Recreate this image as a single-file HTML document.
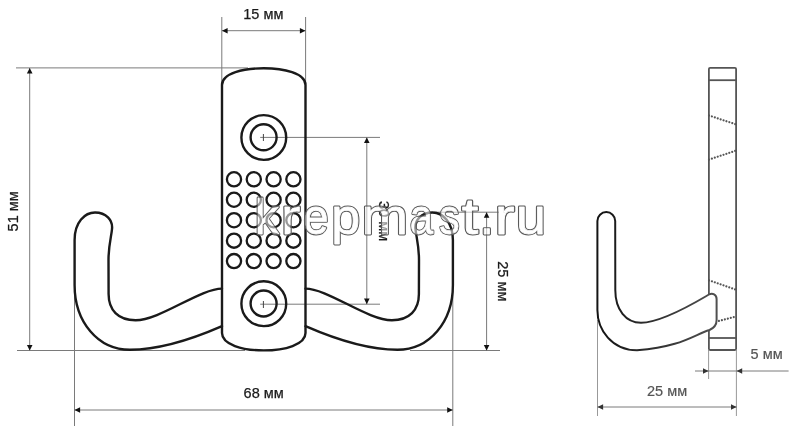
<!DOCTYPE html>
<html><head><meta charset="utf-8"><style>
html,body{margin:0;padding:0;background:#fff;width:800px;height:435px;overflow:hidden}
svg{display:block;filter:grayscale(1)}
text{font-family:"Liberation Sans",sans-serif}
</style></head><body>
<svg width="800" height="435" viewBox="0 0 800 435">
<rect width="800" height="435" fill="#fff"/>
<defs>
<linearGradient id="sg" gradientUnits="userSpaceOnUse" x1="600" y1="0" x2="716" y2="0"><stop offset="0" stop-color="#141414"/><stop offset="1" stop-color="#505050"/></linearGradient>
<path id="ah" d="M0,0 L-5.6,-2.8 L-5.6,2.8 Z"/>
</defs>
<!-- dimension lines -->
<g stroke="#7a7a7a" stroke-width="1" fill="none">
  <!-- 15mm -->
  <line x1="221.8" y1="17" x2="221.8" y2="84"/>
  <line x1="305.6" y1="17" x2="305.6" y2="84"/>
  <line x1="222" y1="30.7" x2="305.5" y2="30.7"/>
  <!-- 51mm -->
  <line x1="16" y1="67.9" x2="248" y2="67.9"/>
  <line x1="17" y1="350.5" x2="245" y2="350.5"/>
  <line x1="410" y1="350.5" x2="500" y2="350.5"/>
  <line x1="29.7" y1="68" x2="29.7" y2="350"/>
  <!-- 68mm -->
  <line x1="74.5" y1="260" x2="74.5" y2="426"/>
  <line x1="452.8" y1="260" x2="452.8" y2="426"/>
  <line x1="74.5" y1="410" x2="452.8" y2="410"/>
  <!-- 30mm -->
  <line x1="260.2" y1="137.4" x2="380" y2="137.4"/>
  <line x1="260.2" y1="304.2" x2="380" y2="304.2"/>
  <line x1="366.8" y1="137.4" x2="366.8" y2="304.2"/>
  <!-- 25mm -->
  <line x1="434" y1="212.2" x2="499" y2="212.2"/>
  <line x1="486.6" y1="212.2" x2="486.6" y2="350.2"/>
  <!-- side 25mm -->
  <line x1="597.5" y1="320" x2="597.5" y2="416" stroke="#999"/>
  <line x1="736.4" y1="350" x2="736.4" y2="416" stroke="#999"/>
  <line x1="597.5" y1="407" x2="736.6" y2="407"/>
  <!-- side 5mm -->
  <line x1="708.6" y1="350" x2="708.6" y2="379" stroke="#999"/>
  <line x1="695" y1="371" x2="788.6" y2="371"/>
</g>
<!-- arrowheads -->
<g fill="#111">
  <use href="#ah" transform="translate(222,30.7) rotate(180)"/>
  <use href="#ah" transform="translate(305.5,30.7)"/>
  <use href="#ah" transform="translate(29.7,67.9) rotate(-90)"/>
  <use href="#ah" transform="translate(29.7,350.5) rotate(90)"/>
  <use href="#ah" transform="translate(74.5,410) rotate(180)"/>
  <use href="#ah" transform="translate(452.8,410)"/>
  <use href="#ah" transform="translate(366.8,137.4) rotate(-90)"/>
  <use href="#ah" transform="translate(366.8,304.2) rotate(90)"/>
  <use href="#ah" transform="translate(486.6,212.2) rotate(-90)"/>
  <use href="#ah" transform="translate(486.6,350.5) rotate(90)"/>
</g>
<g fill="#333">
  <use href="#ah" transform="translate(597.5,407) rotate(180)"/>
  <use href="#ah" transform="translate(736.6,407)"/>
  <use href="#ah" transform="translate(708.6,371)"/>
  <use href="#ah" transform="translate(736.6,371) rotate(180)"/>
</g>

<!-- front view body -->
<g stroke="#1a1a1a" stroke-width="2.4" fill="none" stroke-linejoin="round" stroke-linecap="round">
  <path id="hookL" d="M222,326.2 C195,338 160,349.8 130,349.8 C98,349.8 74.6,322 74.6,285 L74.6,240 C74.6,222 85,212.5 95,212.5 C106,212.5 113,220 112,229 C111.5,236 108.5,245 108.5,260 L108.6,294 C108.6,310 118,320.2 135.6,320.2 C160,320.2 200,288.6 222,288.6"/>
  <use href="#hookL" transform="translate(527.5,0) scale(-1,1)"/>
  <path d="M222,85 C222,73 244,68.3 263.7,68.3 C283.5,68.3 305.5,73 305.5,85 L305.5,333 C305.5,344.5 285,350.4 263.7,350.4 C242.5,350.4 222,344.5 222,333 Z"/>
  <circle cx="263.8" cy="137.5" r="22.4"/>
  <circle cx="263.6" cy="137.3" r="13"/>
  <circle cx="263.8" cy="303.7" r="22.4"/>
  <circle cx="263.6" cy="303.5" r="13"/>
</g>
<g stroke="#1a1a1a" stroke-width="2.3" fill="none">
  <circle cx="234.0" cy="179.30" r="7.1"/><circle cx="253.8" cy="179.30" r="7.1"/><circle cx="273.6" cy="179.30" r="7.1"/><circle cx="293.4" cy="179.30" r="7.1"/>
  <circle cx="234.0" cy="199.75" r="7.1"/><circle cx="253.8" cy="199.75" r="7.1"/><circle cx="273.6" cy="199.75" r="7.1"/><circle cx="293.4" cy="199.75" r="7.1"/>
  <circle cx="234.0" cy="220.20" r="7.1"/><circle cx="253.8" cy="220.20" r="7.1"/><circle cx="273.6" cy="220.20" r="7.1"/><circle cx="293.4" cy="220.20" r="7.1"/>
  <circle cx="234.0" cy="240.65" r="7.1"/><circle cx="253.8" cy="240.65" r="7.1"/><circle cx="273.6" cy="240.65" r="7.1"/><circle cx="293.4" cy="240.65" r="7.1"/>
  <circle cx="234.0" cy="261.10" r="7.1"/><circle cx="253.8" cy="261.10" r="7.1"/><circle cx="273.6" cy="261.10" r="7.1"/><circle cx="293.4" cy="261.10" r="7.1"/>
</g>
<!-- crosshair -->
<g stroke="#444" stroke-width="1">
  <line x1="263.4" y1="134" x2="263.4" y2="141"/>
  <line x1="263.4" y1="301" x2="263.4" y2="308"/>
</g>

<!-- side view -->
<g stroke="#555" stroke-width="1.8" fill="none">
  <rect x="708.9" y="67.9" width="27.2" height="282.1" rx="1.2"/>
  <line x1="708.9" y1="80.2" x2="736.1" y2="80.2"/>
  <line x1="709" y1="338" x2="736.3" y2="338"/>
</g>
<g stroke="#555" stroke-width="2.2" fill="none" stroke-dasharray="0.01 3.05" stroke-linecap="round">
  <line x1="709" y1="115.5" x2="736" y2="124.4"/>
  <line x1="709" y1="159.6" x2="736" y2="150.6"/>
  <line x1="709" y1="280.3" x2="736" y2="289.7"/>
  <line x1="716" y1="321.7" x2="736" y2="316.5"/>
</g>
<path d="M709.5,330 C693.4,334.9 682.6,346.4 637,350.3 C612,350.3 597.4,330 597.4,310 L597.4,221 A8.9,8.9 0 0 1 615.2,221 L615.3,290 C615.3,310 626,322.7 641,322.7 C663,322.7 702,298.5 709,294.5 C712.5,292.5 716.6,294.5 716.6,299 L716.6,320 C716.6,325 713,328.5 709.5,330 Z" fill="#fff" stroke="url(#sg)" stroke-width="2" stroke-linejoin="round"/>


<!-- labels -->
<g font-size="14.5" fill="#1a1a1a" stroke="#1a1a1a" stroke-width="0.25">
  <text x="243.3" y="18.8">15 мм</text>
  <text x="243.6" y="398">68 мм</text>
  <text transform="translate(17.7,231.4) rotate(-90)">51 мм</text>
  <text transform="translate(378.5,201) rotate(90)">30 мм</text>
  <text transform="translate(497.5,261.3) rotate(90)">25 мм</text>
</g>
<g font-size="14.5" fill="#555" stroke="#555" stroke-width="0.2">
  <text x="750.6" y="358.6">5 мм</text>
  <text x="647" y="396">25 мм</text>
</g>
<!-- watermark -->
<mask id="wmm" maskUnits="userSpaceOnUse" x="0" y="0" width="800" height="435"><rect width="800" height="435" fill="#fff"/><g font-size="49.6" fill="#000" stroke="#000" stroke-width="0.8" stroke-linejoin="round"><text transform="translate(254.84,233.7) scale(0.975,1)" >k</text><text transform="translate(281.05,233.7) scale(1.169,1)" >r</text><text transform="translate(303.26,233.7) scale(0.919,1)" >e</text><text transform="translate(331.25,233.7) scale(1.049,1)" >p</text><text transform="translate(361.71,233.7) scale(1.119,1)" >m</text><text transform="translate(409.71,233.7) scale(0.848,1)" >a</text><text transform="translate(439.15,233.7) scale(0.82,1)" >s</text><text transform="translate(461.85,233.7) scale(1.2,1)" >t</text><text transform="translate(479.31,233.7) scale(1.101,1)" >.</text><text transform="translate(494.81,233.7) scale(1.2,1)" >r</text><text transform="translate(516.11,233.7) scale(1.082,1)" >u</text></g></mask>
<g font-size="49.6" opacity="0.55" fill="#fff" stroke="#fff" stroke-width="0.8" stroke-linejoin="round"><text transform="translate(254.84,233.7) scale(0.975,1)" >k</text><text transform="translate(281.05,233.7) scale(1.169,1)" >r</text><text transform="translate(303.26,233.7) scale(0.919,1)" >e</text><text transform="translate(331.25,233.7) scale(1.049,1)" >p</text><text transform="translate(361.71,233.7) scale(1.119,1)" >m</text><text transform="translate(409.71,233.7) scale(0.848,1)" >a</text><text transform="translate(439.15,233.7) scale(0.82,1)" >s</text><text transform="translate(461.85,233.7) scale(1.2,1)" >t</text><text transform="translate(479.31,233.7) scale(1.101,1)" >.</text><text transform="translate(494.81,233.7) scale(1.2,1)" >r</text><text transform="translate(516.11,233.7) scale(1.082,1)" >u</text></g>
<g font-size="49.6" mask="url(#wmm)" fill="none" stroke="#5a5a5a" stroke-width="2.8" stroke-linejoin="round"><text transform="translate(254.84,233.7) scale(0.975,1)" >k</text><text transform="translate(281.05,233.7) scale(1.169,1)" >r</text><text transform="translate(303.26,233.7) scale(0.919,1)" >e</text><text transform="translate(331.25,233.7) scale(1.049,1)" >p</text><text transform="translate(361.71,233.7) scale(1.119,1)" >m</text><text transform="translate(409.71,233.7) scale(0.848,1)" >a</text><text transform="translate(439.15,233.7) scale(0.82,1)" >s</text><text transform="translate(461.85,233.7) scale(1.2,1)" >t</text><text transform="translate(479.31,233.7) scale(1.101,1)" >.</text><text transform="translate(494.81,233.7) scale(1.2,1)" >r</text><text transform="translate(516.11,233.7) scale(1.082,1)" >u</text></g>
</svg>
</body></html>
